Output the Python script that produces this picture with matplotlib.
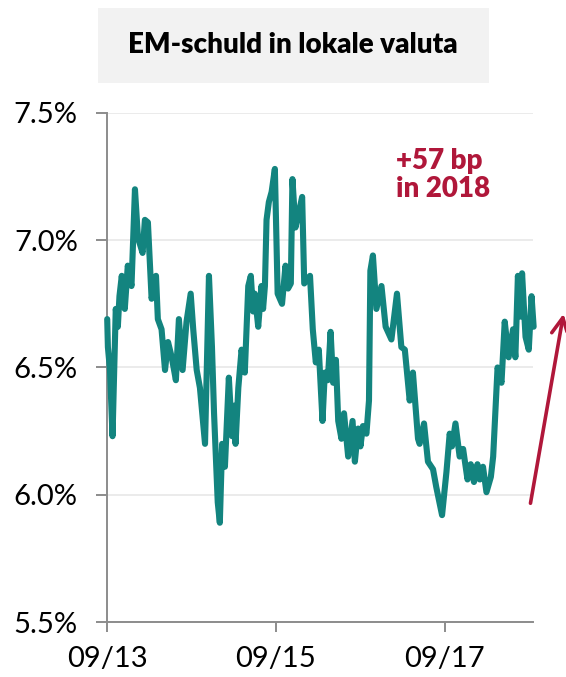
import pandas as pd
import matplotlib
matplotlib.use("Agg")
from matplotlib import pyplot as plt
from matplotlib.patches import Rectangle, FancyArrowPatch
import matplotlib.dates as mdates

# EM local currency debt yield (%)
dates = [
    "2013-09-02", "2013-09-05", "2013-09-14", "2013-09-25", "2013-10-09", "2013-10-18",
    "2013-10-25", "2013-11-04", "2013-11-17", "2013-11-30", "2013-12-16", "2013-12-31",
    "2014-01-13", "2014-02-02", "2014-02-12", "2014-02-25", "2014-03-06", "2014-03-13",
    "2014-04-01", "2014-04-09", "2014-04-25", "2014-05-10", "2014-05-23", "2014-06-08",
    "2014-06-26", "2014-07-09", "2014-07-25", "2014-08-11", "2014-08-29", "2014-09-09",
    "2014-09-24", "2014-10-08", "2014-10-30", "2014-11-16", "2014-11-29", "2014-12-08",
    "2014-12-24", "2015-01-02", "2015-01-12", "2015-01-24", "2015-02-10", "2015-02-24",
    "2015-03-05", "2015-03-11", "2015-03-23", "2015-04-06", "2015-04-20", "2015-05-05",
    "2015-05-16", "2015-05-26", "2015-06-02", "2015-06-17", "2015-07-01", "2015-07-08",
    "2015-07-16", "2015-07-23", "2015-08-02", "2015-08-14", "2015-08-28", "2015-09-09",
    "2015-09-28", "2015-10-13", "2015-10-24", "2015-11-05", "2015-11-12", "2015-11-25",
    "2015-12-10", "2015-12-24", "2016-01-02", "2016-01-27", "2016-02-08", "2016-02-21",
    "2016-03-05", "2016-03-21", "2016-03-31", "2016-04-13", "2016-04-25", "2016-05-06",
    "2016-05-18", "2016-05-28", "2016-06-11", "2016-06-22", "2016-07-10", "2016-07-29",
    "2016-08-08", "2016-08-22", "2016-09-01", "2016-09-12", "2016-09-27", "2016-10-08",
    "2016-10-14", "2016-10-25", "2016-11-09", "2016-12-01", "2016-12-19", "2017-01-13",
    "2017-02-06", "2017-02-25", "2017-03-12", "2017-04-02", "2017-04-16", "2017-05-08",
    "2017-05-15", "2017-06-03", "2017-06-20", "2017-07-12", "2017-07-26", "2017-08-20",
    "2017-09-08", "2017-09-22", "2017-10-02", "2017-10-17", "2017-11-04", "2017-11-19",
    "2017-12-08", "2017-12-22", "2018-01-05", "2018-01-20", "2018-01-30", "2018-02-13",
    "2018-02-28", "2018-03-19", "2018-03-29", "2018-04-17", "2018-05-04", "2018-05-18",
    "2018-06-04", "2018-06-23", "2018-07-03", "2018-07-14", "2018-07-26", "2018-08-01",
    "2018-08-16", "2018-08-30", "2018-09-11", "2018-09-20",
]
yields = [
    6.69, 6.58, 6.49, 6.23, 6.73, 6.66,
    6.78, 6.86, 6.73, 6.90, 6.82, 7.20,
    7.01, 6.95, 7.08, 7.07, 6.90, 6.77,
    6.86, 6.69, 6.65, 6.49, 6.60, 6.54,
    6.45, 6.69, 6.49, 6.68, 6.79, 6.65,
    6.49, 6.42, 6.20, 6.86, 6.58, 6.32,
    5.97, 5.89, 6.20, 6.11, 6.46, 6.23,
    6.35, 6.20, 6.42, 6.57, 6.48, 6.82,
    6.86, 6.72, 6.79, 6.66, 6.82, 6.73,
    6.82, 7.08, 7.15, 7.19, 7.28, 6.79,
    6.75, 6.90, 6.81, 6.83, 7.24, 7.05,
    7.11, 7.17, 6.83, 6.86, 6.65, 6.52,
    6.57, 6.29, 6.48, 6.45, 6.64, 6.44,
    6.53, 6.29, 6.22, 6.32, 6.15, 6.29,
    6.13, 6.26, 6.19, 6.27, 6.24, 6.37,
    6.88, 6.94, 6.73, 6.82, 6.66, 6.61,
    6.79, 6.58, 6.57, 6.37, 6.48, 6.22,
    6.20, 6.28, 6.13, 6.10, 6.03, 5.92,
    6.09, 6.24, 6.19, 6.28, 6.15, 6.18,
    6.06, 6.12, 6.05, 6.12, 6.06, 6.11,
    6.01, 6.07, 6.15, 6.50, 6.44, 6.68,
    6.54, 6.65, 6.54, 6.86, 6.70, 6.87,
    6.62, 6.57, 6.78, 6.66,
]
y_ticks = [5.5, 6.0, 6.5, 7.0, 7.5]
x_ticks = ["2013-09-01", "2015-09-01", "2017-09-01"]

title = "EM-schuld in lokale valuta"
note = "+57 bp\nin 2018"

teal = "#13847f"
red = "#b0173a"
grey = "#8c8c8c"

plt.rcParams['font.family'] = ['Lato', 'DejaVu Sans']

fig = plt.figure(figsize=(5.66, 6.77), dpi=100)
ax = fig.add_axes([0.189, 0.0812, 0.753, 0.752])

x = pd.to_datetime(dates)
ax.plot(x, yields, color=teal, lw=4.4, solid_joinstyle='round', solid_capstyle='round',
        zorder=3, clip_on=False)

ax.set_ylim(5.5, 7.5)
ax.set_yticks(y_ticks)
ax.set_yticklabels([f"{v:.1f}%" for v in y_ticks])
ax.set_xlim(pd.Timestamp("2013-09-01"), pd.Timestamp("2018-09-18"))
ax.set_xticks(pd.to_datetime(x_ticks))
ax.xaxis.set_major_formatter(mdates.DateFormatter("%m/%y"))

ax.grid(axis='y', color='#e8e8e8', lw=1.2, zorder=0)
for s in ['top', 'right']:
    ax.spines[s].set_visible(False)
for s in ['left', 'bottom']:
    ax.spines[s].set_color(grey)
    ax.spines[s].set_linewidth(1.4)
ax.tick_params(axis='y', length=8, width=1.4, color=grey, labelsize=21, pad=13)
ax.tick_params(axis='x', length=7, width=1.4, color=grey, labelsize=21, pad=10)

# title box
fig.add_artist(Rectangle((0.173, 0.877), 0.691, 0.111, transform=fig.transFigure,
                         facecolor='#f2f2f2', edgecolor='none'))
fig.text(0.518, 0.933, title, ha='center', va='center', fontsize=20, fontweight='heavy')

# annotation
fig.text(0.700, 0.782, note, ha='left', va='top', fontsize=20, fontweight='heavy',
         color=red, linespacing=1.1)
fig.add_artist(FancyArrowPatch((530 / 566, 1 - 506 / 677), (564 / 566, 1 - 311 / 677),
                               transform=fig.transFigure, arrowstyle='->,head_length=12,head_width=6',
                               color=red, lw=2.6, mutation_scale=1))

fig.savefig("out.png", dpi=100)
